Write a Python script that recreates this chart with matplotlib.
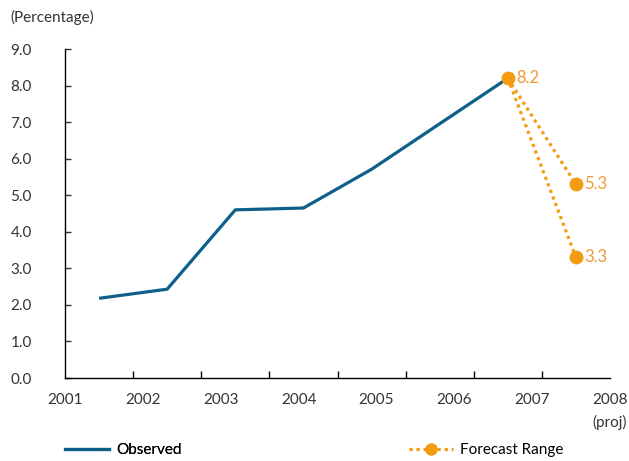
import matplotlib.pyplot as plt
from matplotlib.lines import Line2D

plt.rcParams['font.family'] = ['Lato', 'DejaVu Sans']
plt.rcParams['font.size'] = 11

# data (category positions: 8 slots, points in slot centres)
years = ["2001", "2002", "2003", "2004", "2005", "2006", "2007", "2008"]
obs_x = [0.5, 1.5, 2.5, 3.5, 4.5, 6.5]
obs_y = [2.18, 2.43, 4.60, 4.65, 5.71, 8.2]
fc_x = [6.5, 7.5]
fc_high = [8.2, 5.3]
fc_low = [8.2, 3.3]

blue = "#0e5f8a"
orange = "#f39c12"
label_col = "#ef9a3a"
text_col = "#333333"

fig = plt.figure(figsize=(6.29, 4.61), dpi=100)
ax = fig.add_axes([65 / 629, 1 - 378 / 461, 545 / 629, 329 / 461])

ax.plot(obs_x, obs_y, color=blue, lw=2.3, solid_capstyle="butt")
ax.plot(fc_x, fc_high, color=orange, lw=2.3, ls=(0, (1, 1.2)))
ax.plot(fc_x, fc_low, color=orange, lw=2.3, ls=(0, (1, 1.2)))
ax.plot([fc_x[0], fc_x[1], fc_x[1]], [fc_high[0], fc_high[1], fc_low[1]],
        ls="none", marker="o", ms=9, color=orange)

for x, y in [(fc_x[0], fc_high[0]), (fc_x[1], fc_high[1]), (fc_x[1], fc_low[1])]:
    ax.annotate(f"{y:.1f}", (x, y), xytext=(6, 0), textcoords="offset points",
                va="center", ha="left", color=label_col, fontsize=12)

ax.set_xlim(0, 8)
ax.set_ylim(0, 9)
ax.set_yticks(range(10))
ax.set_yticklabels([f"{v:.1f}" for v in range(10)])

# year labels spread over the axis, tick marks at category edges
ax.set_xticks([i * 8 / 7 for i in range(8)])
ax.set_xticklabels(years)
ax.set_xticks(range(9), minor=True)
ax.tick_params(axis="x", which="major", length=0, pad=11, colors=text_col)
ax.tick_params(axis="x", which="minor", direction="in", length=5, width=1)
ax.tick_params(axis="y", direction="in", length=4, width=1, pad=24, colors=text_col)
for lab in ax.get_yticklabels():
    lab.set_horizontalalignment("right")

for s in ["top", "right"]:
    ax.spines[s].set_visible(False)
for s in ["left", "bottom"]:
    ax.spines[s].set_linewidth(1)
    ax.spines[s].set_color("black")

fig.text(10 / 629, 1 - 17 / 461, "(Percentage)", va="center", ha="left", color=text_col)
fig.text(627 / 629, 1 - 422 / 461, "(proj)", va="center", ha="right", color=text_col)

h1 = Line2D([], [], color=blue, lw=2.3)
h2 = Line2D([], [], color=orange, lw=2.3, ls=(0, (1, 1.2)), marker="o", ms=8)
leg1 = fig.legend([h1], ["Observed"], loc="center left", frameon=False,
                  bbox_to_anchor=(65 / 629, 1 - 450 / 461), borderpad=0,
                  borderaxespad=0, handlelength=2.9, handletextpad=0.45)
fig.legend([h2], ["Forecast Range"], loc="center left", frameon=False,
           bbox_to_anchor=(409 / 629, 1 - 450 / 461), borderpad=0,
           borderaxespad=0, handlelength=2.9, handletextpad=0.45)
fig.add_artist(leg1)

fig.savefig("out.png", dpi=100)
